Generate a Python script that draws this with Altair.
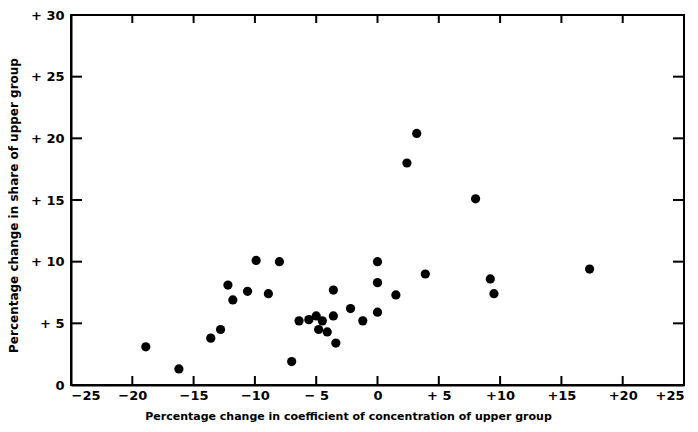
import altair as alt
import pandas as pd

# Percentage change in coefficient of concentration of upper group
x_vals = [-18.9, -16.2, -13.6, -12.8, -12.2, -11.8, -10.6, -9.9, -8.9, -8.0,
          -7.0, -6.4, -5.6, -5.0, -4.5, -4.8, -4.1, -3.6, -3.6, -3.4,
          -2.2, -1.2, 0.0, 0.0, 0.0, 1.5, 2.4, 3.2, 3.9, 8.0,
          9.2, 9.5, 17.3]
# Percentage change in share of upper group
y_vals = [3.1, 1.3, 3.8, 4.5, 8.1, 6.9, 7.6, 10.1, 7.4, 10.0,
          1.9, 5.2, 5.3, 5.6, 5.2, 4.5, 4.3, 5.6, 7.7, 3.4,
          6.2, 5.2, 10.0, 8.3, 5.9, 7.3, 18.0, 20.4, 9.0, 15.1,
          8.6, 7.4, 9.4]

x_ticks = [-20, -15, -10, -5, 0, 5, 10, 15, 20]
y_ticks = [5, 10, 15, 20, 25]

W, H = 613, 370
FONT = "DejaVu Sans"

df = pd.DataFrame({"x": x_vals, "y": y_vals})
dxt = pd.DataFrame({"x": x_ticks})
dyt = pd.DataFrame({"y": y_ticks})

xscale = alt.Scale(domain=[-25, 25], nice=False, zero=False)
yscale = alt.Scale(domain=[0, 30], nice=False, zero=False)

x_label = ("datum.value > 0 ? (datum.value < 10 ? '+ ' : '+') + datum.value : "
           "(datum.value < 0 ? '\u2212' + (datum.value > -10 ? ' ' : '') + abs(datum.value) : '0')")
y_label = "datum.value > 0 ? '+ ' + datum.value : '0'"

points = alt.Chart(df).mark_circle(size=85, color="black", opacity=1).encode(
    x=alt.X("x:Q", scale=xscale,
            axis=alt.Axis(values=[-25, -20, -15, -10, -5, 0, 5, 10, 15, 20, 25],
                          labelExpr=x_label, ticks=False, grid=False,
                          domainColor="black", domainWidth=2,
                          labelFont=FONT, labelFontSize=13, labelColor="black",
                          labelPadding=4, labelFontWeight="bold",
                          title="Percentage change in coefficient of concentration of upper group",
                          titleFont=FONT, titleFontSize=11, titleFontWeight="bold",
                          titleColor="black", titlePadding=8, titleX=277)),
    y=alt.Y("y:Q", scale=yscale,
            axis=alt.Axis(values=[0, 5, 10, 15, 20, 25, 30],
                          labelExpr=y_label, ticks=False, grid=False,
                          domainColor="black", domainWidth=2,
                          labelFont=FONT, labelFontSize=13, labelColor="black",
                          labelPadding=7, labelFontWeight="bold",
                          title="Percentage change in share of upper group",
                          titleFont=FONT, titleFontSize=12, titleFontWeight="bold",
                          titleColor="black", titleX=-51, titleY=190)),
)

tick_style = dict(color="black", strokeWidth=2)
bottom_ticks = alt.Chart(dxt).mark_rule(**tick_style).encode(
    x=alt.X("x:Q", scale=xscale), y=alt.value(H), y2=alt.value(H - 9))
top_ticks = alt.Chart(dxt).mark_rule(**tick_style).encode(
    x=alt.X("x:Q", scale=xscale), y=alt.value(0), y2=alt.value(8))
left_ticks = alt.Chart(dyt).mark_rule(**tick_style).encode(
    y=alt.Y("y:Q", scale=yscale), x=alt.value(0), x2=alt.value(11))
right_ticks = alt.Chart(dyt).mark_rule(**tick_style).encode(
    y=alt.Y("y:Q", scale=yscale), x=alt.value(W), x2=alt.value(W - 11))

chart = alt.layer(points, bottom_ticks, top_ticks, left_ticks, right_ticks).properties(
    width=W, height=H,
    autosize=alt.AutoSizeParams(type="none"),
    padding={"left": 63, "top": 7, "right": 6, "bottom": 39},
    background="white",
).configure_view(stroke="black", strokeWidth=2)

chart.save("out.html", embed_options={"renderer": "svg", "actions": False})
